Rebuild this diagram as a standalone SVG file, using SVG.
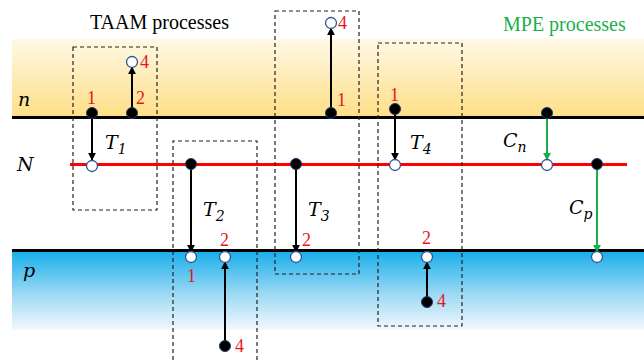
<svg xmlns="http://www.w3.org/2000/svg" width="644" height="360" viewBox="0 0 644 360">
<defs>
<linearGradient id="gy" x1="0" y1="0" x2="0" y2="1">
<stop offset="0" stop-color="#FFF8E6"/>
<stop offset="1" stop-color="#FDDF86"/>
</linearGradient>
<linearGradient id="gb" x1="0" y1="0" x2="0" y2="1">
<stop offset="0" stop-color="#14ADEA"/>
<stop offset="0.55" stop-color="#9CD9F4"/>
<stop offset="1" stop-color="#F4F8FD"/>
</linearGradient>
<marker id="ak" viewBox="0 0 10 10" refX="9" refY="5" markerWidth="4" markerHeight="4" orient="auto" markerUnits="strokeWidth">
<path d="M0,0 L10,5 L0,10 z" fill="#000"/>
</marker>
<marker id="ag" viewBox="0 0 10 10" refX="9" refY="5" markerWidth="4" markerHeight="4" orient="auto" markerUnits="strokeWidth">
<path d="M0,0 L10,5 L0,10 z" fill="#1AAF4B"/>
</marker>
<style>
.box{fill:none;stroke:#222;stroke-width:1.2;stroke-dasharray:4,3}
.ar{stroke:#000;stroke-width:2;fill:none;marker-end:url(#ak)}
.ag{stroke:#1AAF4B;stroke-width:2;fill:none;marker-end:url(#ag)}
.fc{fill:#000;stroke:#1F3A6A;stroke-width:1}
.oc{fill:#fff;stroke:#2F5597;stroke-width:1.3}
.num{font-family:"Liberation Serif",serif;font-size:18px;fill:#E8161B}
.ttl{font-family:"Liberation Serif",serif;font-size:20px}
.m{font-family:"DejaVu Serif","Liberation Serif",serif;font-style:italic;font-size:19px;fill:#000}
.sub{font-size:14px}
</style>
</defs>
<rect x="12" y="39" width="632" height="78" fill="url(#gy)"/>
<rect x="12" y="250" width="632" height="80" fill="url(#gb)"/>
<line x1="12" y1="117.5" x2="644" y2="117.5" stroke="#000" stroke-width="3"/>
<line x1="12" y1="250.5" x2="644" y2="250.5" stroke="#000" stroke-width="3"/>
<line x1="70" y1="164.5" x2="627" y2="164.5" stroke="#FF0000" stroke-width="3"/>
<text class="ttl" x="90" y="29" fill="#000">TAAM processes</text>
<text class="ttl" x="503" y="31" fill="#1AAF4B">MPE processes</text>
<text class="m" x="18" y="106">n</text>
<text class="m" x="17" y="171">N</text>
<text class="m" x="23" y="277">p</text>
<g id="connectors">
<line class="ar" x1="92" y1="118" x2="92" y2="160"/>
<line class="ar" x1="132" y1="108" x2="132" y2="67"/>
<line class="ar" x1="191" y1="169" x2="191" y2="252"/>
<line class="ar" x1="225" y1="341" x2="225" y2="262"/>
<line class="ar" x1="296" y1="169" x2="296" y2="252"/>
<line class="ar" x1="331" y1="108" x2="331" y2="28"/>
<line class="ar" x1="395" y1="114" x2="395" y2="160"/>
<line class="ar" x1="427" y1="297" x2="427" y2="262"/>
<line class="ag" x1="547" y1="118" x2="547" y2="160"/>
<line class="ag" x1="597" y1="169" x2="597" y2="252"/>
</g>
<g id="T1">
<rect class="box" x="73" y="47" width="84" height="163"/>
<circle class="fc" cx="92" cy="113" r="5.5"/>
<circle class="oc" cx="92" cy="166" r="5.5"/>
<circle class="fc" cx="132" cy="113" r="5.5"/>
<circle class="oc" cx="132" cy="62" r="5.5"/>
<text class="num" x="87" y="104">1</text>
<text class="num" x="136" y="104">2</text>
<text class="num" x="140" y="68">4</text>
<text class="m" x="105" y="149">T<tspan class="sub" dy="5">1</tspan></text>
</g>
<g id="T2">
<path class="box" d="M173,360 V141 H257 V360"/>
<circle class="fc" cx="191" cy="164" r="5.5"/>
<circle class="oc" cx="191" cy="257" r="5.5"/>
<circle class="oc" cx="225" cy="257" r="5.5"/>
<circle class="fc" cx="225" cy="346" r="5.5"/>
<text class="num" x="187" y="282">1</text>
<text class="num" x="220" y="246">2</text>
<text class="num" x="235" y="352">4</text>
<text class="m" x="203" y="216">T<tspan class="sub" dy="5">2</tspan></text>
</g>
<g id="T3">
<rect class="box" x="275" y="11" width="84" height="263"/>
<circle class="fc" cx="296" cy="164" r="5.5"/>
<circle class="oc" cx="296" cy="257" r="5.5"/>
<circle class="fc" cx="331" cy="113" r="5.5"/>
<circle class="oc" cx="331" cy="23" r="5.5"/>
<text class="num" x="302" y="246">2</text>
<text class="num" x="337" y="106">1</text>
<text class="num" x="338" y="29">4</text>
<text class="m" x="308" y="216">T<tspan class="sub" dy="5">3</tspan></text>
</g>
<g id="T4">
<rect class="box" x="378" y="43" width="84" height="283"/>
<circle class="fc" cx="395" cy="109" r="5.5"/>
<circle class="oc" cx="395" cy="165" r="5.5"/>
<circle class="oc" cx="427" cy="257" r="5.5"/>
<circle class="fc" cx="427" cy="302" r="5.5"/>
<text class="num" x="390" y="101">1</text>
<text class="num" x="422" y="244">2</text>
<text class="num" x="437" y="307">4</text>
<text class="m" x="410" y="149">T<tspan class="sub" dy="5">4</tspan></text>
</g>
<g id="Cn">
<circle class="fc" cx="547" cy="113" r="5.5"/>
<circle class="oc" cx="547" cy="165" r="5.5"/>
<text class="m" x="503" y="147">C<tspan class="sub" dy="5">n</tspan></text>
</g>
<g id="Cp">
<circle class="fc" cx="597" cy="164" r="5.5"/>
<circle class="oc" cx="597" cy="257" r="5.5"/>
<text class="m" x="569" y="214">C<tspan class="sub" dy="5">p</tspan></text>
</g>
</svg>
